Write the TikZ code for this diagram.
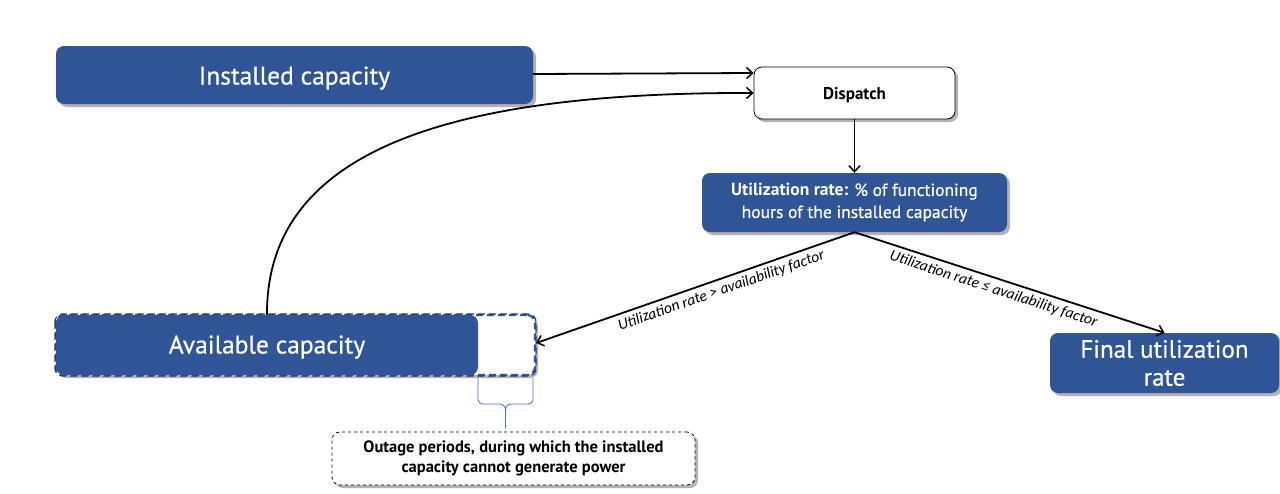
\documentclass[tikz,border=0pt]{standalone}
\usepackage{fontspec}
\setmainfont{PT Sans}[UprightFeatures={FakeBold=0.6}]
\newfontfamily\labfont{Carlito}
\usetikzlibrary{arrows.meta,shadows}
\definecolor{cblue}{RGB}{47,85,151}
\definecolor{bracec}{RGB}{68,114,196}
\tikzset{
  shad/.style={drop shadow={shadow xshift=3pt,shadow yshift=-3pt,fill=black!30,opacity=1}},
  bluebox/.style={shad,rounded corners=8pt,fill=cblue,text=white,inner sep=0pt,align=center},
  whitebox/.style={shad,rounded corners=8pt,fill=white,draw=black,line width=0.8pt,inner sep=0pt,align=center},
  conn/.style={draw=black,line width=1.8pt,-{Straight Barb[length=6pt,width=11pt,line width=1.5pt]}},
  lab/.style={font=\labfont\itshape\fontsize{15.5}{17}\selectfont,sloped,below,inner sep=4pt}
}
\begin{document}
\begin{tikzpicture}[x=1pt,y=-1pt]
\useasboundingbox (0,0) rectangle (1280,493);
% Installed capacity
\node[bluebox,minimum width=477pt,minimum height=58pt,font=\fontsize{25.5}{28}\selectfont] (inst) at (294.5,75) {\raisebox{-9.5pt}[0pt][0pt]{Installed capacity}};
% Dispatch
\node[whitebox,minimum width=201pt,minimum height=52pt,font=\bfseries\fontsize{17}{19}\selectfont] (disp) at (854.5,93) {\raisebox{-6.5pt}[0pt][0pt]{Dispatch}};
% Utilization
\node[bluebox,minimum width=305pt,minimum height=59pt,font=\fontsize{17.5}{22}\selectfont] (util) at (854.5,202.5) {\textbf{Utilization rate:} \% of functioning\\hours of the installed capacity};
% Available capacity (dashed full extent + blue part)
\node[shad,rounded corners=8pt,fill=white,draw=cblue,line width=2.2pt,dash pattern=on 7pt off 4pt,minimum width=479pt,minimum height=60pt,inner sep=0pt] (avail) at (295.5,345) {};
\node[rounded corners=8pt,fill=cblue,text=white,inner sep=0pt,minimum width=422pt,minimum height=60pt,font=\fontsize{25.5}{28}\selectfont] (availfill) at (267,345) {\raisebox{-8.5pt}[0pt][0pt]{Available capacity}};
\draw[rounded corners=8pt,draw=cblue!70!black,line width=1.2pt,dash pattern=on 7pt off 4pt] (avail.north west) rectangle (avail.south east);
% Final utilization rate
\node[bluebox,minimum width=229pt,minimum height=60pt,font=\fontsize{25}{28}\selectfont] (final) at (1164.5,363) {Final utilization\\rate};
% Outage
\node[shad,rounded corners=8pt,fill=white,draw=black,line width=0.8pt,dashed,minimum width=363pt,minimum height=53pt,inner sep=0pt,align=center,font=\bfseries\fontsize{16.5}{20}\selectfont] (outage) at (513.5,458.5) {Outage periods, during which the installed\\capacity cannot generate power};
% Brace
\coordinate (bl) at (478,378);
\coordinate (br) at (533,378);
\coordinate (btip) at (505.5,428);
\draw[bracec,line width=0.8pt,line join=round] (bl) -- (478,400) to[out=-90,in=180] (483,404) -- (500,404) to[out=0,in=90] (505.5,410) -- (btip);
\draw[bracec,line width=0.8pt,line join=round] (br) -- (533,400) to[out=-90,in=0] (528,404) -- (511,404) to[out=180,in=90] (505.5,410);
% Connectors
\draw[conn] (inst.east |- 0,74) -- (disp.west |- 0,73);
\draw[conn] (availfill.north) .. controls (266,150) and (450,92) .. (disp.west |- 0,93);
\draw[conn] (disp.south) -- (util.north);
\draw[conn] (util.south) -- node[lab,pos=0.43] {Utilization rate > availability factor} (avail.east |- 0,343);
\draw[conn] (util.south) -- node[lab,pos=0.46] {Utilization rate ≤ availability factor} (final.north);
\end{tikzpicture}
\end{document}
